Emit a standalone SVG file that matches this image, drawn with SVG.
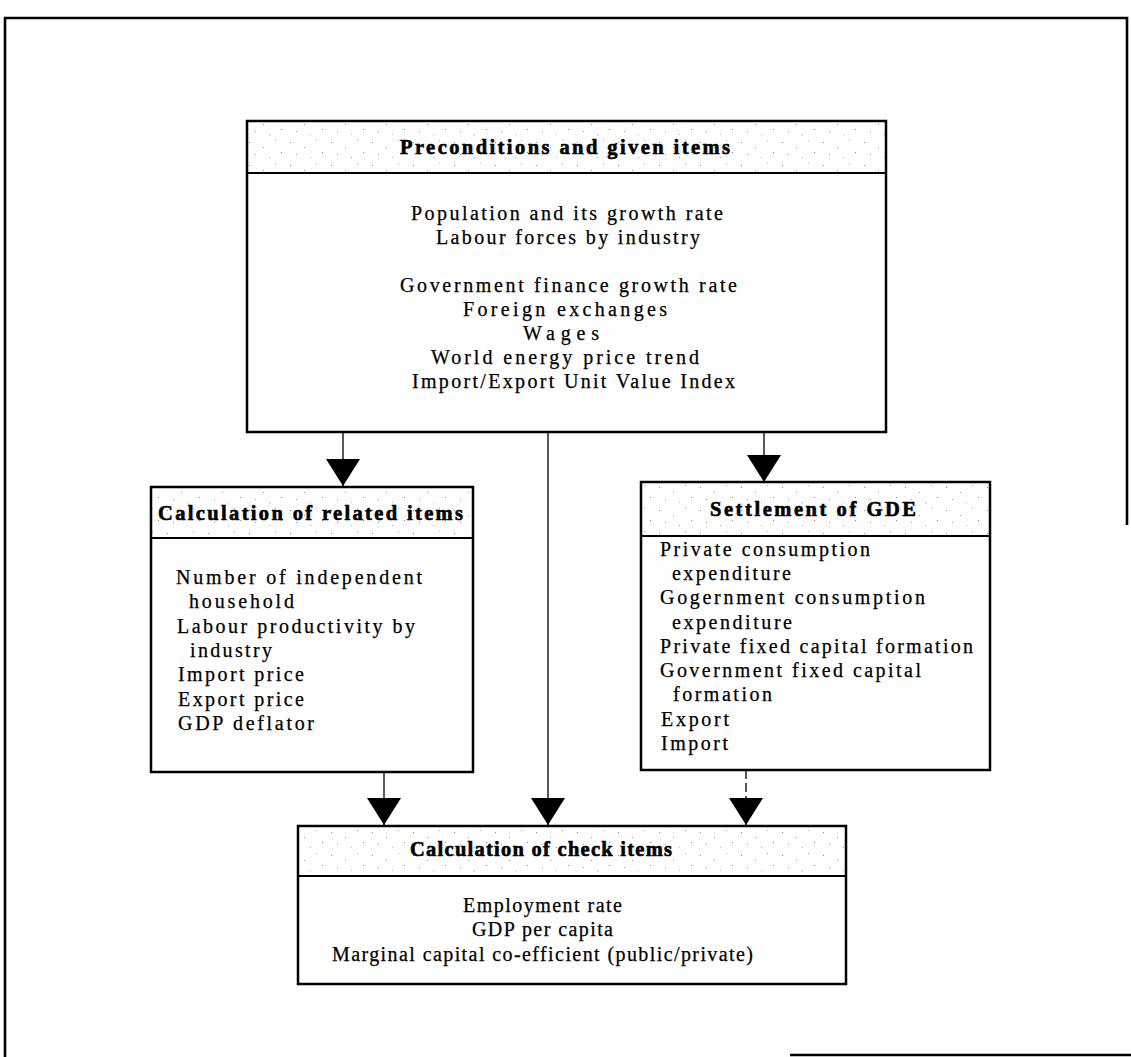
<svg xmlns="http://www.w3.org/2000/svg" width="1131" height="1057" viewBox="0 0 1131 1057">
<style>
.box{fill:none;stroke:#000;stroke-width:2.5}
.hdr{fill:url(#stip)}
.sep{stroke:#000;stroke-width:2.2}
.ttl{font-family:"Liberation Serif",serif;font-weight:bold;font-size:20.5px;fill:#000;stroke:#000;stroke-width:0.6}
.bd{font-family:"Liberation Serif",serif;font-size:20px;fill:#000;stroke:#000;stroke-width:0.25}
.con{stroke:#000;stroke-width:1.3;fill:none;marker-end:url(#arr)}
.frame{fill:none;stroke:#000;stroke-width:2.6}
</style>
<defs>
<pattern id="stip" width="41" height="23" patternUnits="userSpaceOnUse">
<rect width="41" height="23" fill="#fff"/>
<rect x="3" y="4" width="1" height="1" fill="#888"/>
<rect x="17" y="9" width="1" height="1" fill="#999"/>
<rect x="29" y="2" width="1" height="1" fill="#aaa"/>
<rect x="9" y="16" width="1" height="1" fill="#999"/>
<rect x="35" y="14" width="1" height="1" fill="#888"/>
<rect x="23" y="19" width="1" height="1" fill="#aaa"/>
</pattern>
<marker id="arr" viewBox="0 0 27 34" refX="27" refY="17" markerWidth="27" markerHeight="34" orient="auto" markerUnits="userSpaceOnUse">
<path d="M0,0 L27,17 L0,34 Z" fill="#000"/>
</marker>
</defs>
<rect width="1131" height="1057" fill="#fff"/>
<g id="frame">
<polyline class="frame" points="5,1057 5,18 1127,18 1127,525"/>
<line class="frame" x1="790" y1="1055" x2="1131" y2="1055"/>
</g>
<g id="connectors">
<line class="con" x1="343" y1="433" x2="343" y2="486"/>
<line class="con" x1="764" y1="433" x2="764" y2="482"/>
<line class="con" x1="548" y1="433" x2="548" y2="825"/>
<line class="con" x1="384" y1="772" x2="384" y2="825"/>
<line class="con" x1="746" y1="770" x2="746" y2="825" stroke-dasharray="9,4"/>
</g>
<g id="preconditions">
<rect class="hdr" x="247" y="121" width="639" height="52"/>
<rect class="box" x="247" y="121" width="639" height="311"/>
<line class="sep" x1="247" y1="173" x2="886" y2="173"/>
<text class="ttl" x="400" y="154" textLength="330" lengthAdjust="spacing">Preconditions and given items</text>
<text class="bd" x="411" y="220" textLength="312" lengthAdjust="spacing">Population and its growth rate</text>
<text class="bd" x="436" y="244" textLength="264" lengthAdjust="spacing">Labour forces by industry</text>
<text class="bd" x="400" y="292" textLength="337" lengthAdjust="spacing">Government finance growth rate</text>
<text class="bd" x="463" y="316" textLength="204" lengthAdjust="spacing">Foreign exchanges</text>
<text class="bd" x="523" y="340" textLength="76" lengthAdjust="spacing">Wages</text>
<text class="bd" x="431" y="364" textLength="268" lengthAdjust="spacing">World energy price trend</text>
<text class="bd" x="412" y="388" textLength="323" lengthAdjust="spacing">Import/Export Unit Value Index</text>
</g>
<g id="related">
<rect class="hdr" x="151" y="487" width="322" height="51"/>
<rect class="box" x="151" y="487" width="322" height="285"/>
<line class="sep" x1="151" y1="538" x2="473" y2="538"/>
<text class="ttl" x="158" y="520" textLength="305" lengthAdjust="spacing">Calculation of related items</text>
<text class="bd" x="176" y="584" textLength="246" lengthAdjust="spacing">Number of independent</text>
<text class="bd" x="189" y="608" textLength="105" lengthAdjust="spacing">household</text>
<text class="bd" x="177" y="633" textLength="238" lengthAdjust="spacing">Labour productivity by</text>
<text class="bd" x="190" y="657" textLength="82" lengthAdjust="spacing">industry</text>
<text class="bd" x="178" y="681" textLength="126" lengthAdjust="spacing">Import price</text>
<text class="bd" x="178" y="706" textLength="126" lengthAdjust="spacing">Export price</text>
<text class="bd" x="178" y="730" textLength="136" lengthAdjust="spacing">GDP deflator</text>
</g>
<g id="gde">
<rect class="hdr" x="641" y="482" width="349" height="54"/>
<rect class="box" x="641" y="482" width="349" height="288"/>
<line class="sep" x1="641" y1="536" x2="990" y2="536"/>
<text class="ttl" x="710" y="516" textLength="206" lengthAdjust="spacing">Settlement of GDE</text>
<text class="bd" x="660" y="556" textLength="210" lengthAdjust="spacing">Private consumption</text>
<text class="bd" x="672" y="580" textLength="119" lengthAdjust="spacing">expenditure</text>
<text class="bd" x="660" y="604" textLength="265" lengthAdjust="spacing">Gogernment consumption</text>
<text class="bd" x="672" y="629" textLength="120" lengthAdjust="spacing">expenditure</text>
<text class="bd" x="660" y="653" textLength="313" lengthAdjust="spacing">Private fixed capital formation</text>
<text class="bd" x="660" y="677" textLength="261" lengthAdjust="spacing">Government fixed capital</text>
<text class="bd" x="673" y="701" textLength="99" lengthAdjust="spacing">formation</text>
<text class="bd" x="661" y="726" textLength="68" lengthAdjust="spacing">Export</text>
<text class="bd" x="661" y="750" textLength="67" lengthAdjust="spacing">Import</text>
</g>
<g id="check">
<rect class="hdr" x="298" y="826" width="548" height="50"/>
<rect class="box" x="298" y="826" width="548" height="158"/>
<line class="sep" x1="298" y1="876" x2="846" y2="876"/>
<text class="ttl" x="410" y="856" textLength="262" lengthAdjust="spacing">Calculation of check items</text>
<text class="bd" x="463" y="912" textLength="159" lengthAdjust="spacing">Employment rate</text>
<text class="bd" x="472" y="936" textLength="141" lengthAdjust="spacing">GDP per capita</text>
<text class="bd" x="332" y="961" textLength="421" lengthAdjust="spacing">Marginal capital co-efficient (public/private)</text>
</g>
</svg>
